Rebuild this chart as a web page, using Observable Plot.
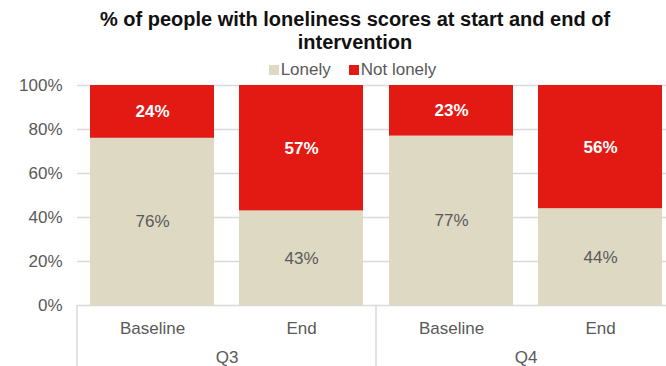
<!DOCTYPE html>
<html>
<head>
<meta charset="utf-8">
<script src="https://cdn.jsdelivr.net/npm/d3@7"></script>
<script src="https://cdn.jsdelivr.net/npm/@observablehq/plot@0.6"></script>
<style>
  html, body { margin: 0; padding: 0; background: #fff; overflow: hidden; }
  body { width: 666px; height: 366px; font-family: "Liberation Sans", Arial, sans-serif; }
  #title { width: 622px; padding: 8px 0 0 44px; text-align: center; font-weight: bold; font-size: 20px; line-height: 23px; color: #111; }
  #legend { width: 627px; padding-left: 39px; height: 20px; margin-top: 6px; display: flex; justify-content: center; align-items: center; font-size: 17px; color: #595959; }
  #legend .item { display: inline-flex; align-items: center; margin: 0 9px; }
  #legend .sw { width: 10px; height: 10px; margin-right: 2px; display: inline-block; }
  #chart { width: 666px; overflow: visible; }
  #chart svg { display: block; }
</style>
</head>
<body>
<div id="title">% of people with loneliness scores at start and end of<br>intervention</div>
<div id="legend"></div>
<div id="chart"></div>
<script>
const quarters = ["Q3", "Q3", "Q4", "Q4"];
const periods = ["Baseline", "End", "Baseline", "End"];
const lonely = [0.76, 0.43, 0.77, 0.44];
const notLonely = [0.24, 0.57, 0.23, 0.56];
const seriesNames = ["Lonely", "Not lonely"];
const seriesColors = ["#DDD9C3", "#E31A13"];
const yTicks = [0, 0.2, 0.4, 0.6, 0.8, 1];

const data = [];
quarters.forEach((q, i) => {
  data.push({quarter: q, period: periods[i], series: "Lonely", value: lonely[i], mid: lonely[i] / 2});
  data.push({quarter: q, period: periods[i], series: "Not lonely", value: notLonely[i], mid: lonely[i] + notLonely[i] / 2});
});

const chart = Plot.plot({
  width: 666,
  height: 286,
  marginTop: 5,
  marginBottom: 61,
  marginLeft: 77,
  marginRight: -9,
  style: {font: "17px 'Liberation Sans', Arial, sans-serif", color: "#595959", background: "#fff", overflow: "visible"},
  fx: {domain: ["Q3", "Q4"], padding: 0, label: null, axis: "bottom", tickSize: 0, tickPadding: 45},
  x: {domain: ["Baseline", "End"], paddingInner: 0.17, paddingOuter: 0.085, label: null, tickSize: 0, tickPadding: 16},
  y: {domain: [0, 1], label: null, ticks: yTicks, tickFormat: d3.format(".0%"), tickSize: 0, tickPadding: 15},
  color: {domain: seriesNames, range: seriesColors},
  marks: [
    Plot.gridY(yTicks, {stroke: "#d9d9d9", strokeOpacity: 1, strokeWidth: 1.5}),
    Plot.barY(data, {fx: "quarter", x: "period", y: "value", fill: "series", order: seriesNames}),
    Plot.text(data.filter(d => d.series === "Lonely"), {fx: "quarter", x: "period", y: "mid", text: d => d3.format(".0%")(d.value), fill: "#595959", fontSize: 17}),
    Plot.text(data.filter(d => d.series === "Not lonely"), {fx: "quarter", x: "period", y: "mid", text: d => d3.format(".0%")(d.value), fill: "#fff", fontWeight: "bold", fontSize: 17})
  ]
});

// category separators of the two-level axis, drawn from the facet and y scales
const fx = chart.scale("fx");
const y = chart.scale("y");
const svg = d3.select(chart);
const edges = [];
fx.domain.forEach(q => { edges.push(fx.apply(q)); edges.push(fx.apply(q) + fx.bandwidth); });
Array.from(new Set(edges.map(e => Math.round(e * 10) / 10))).forEach(xp => {
  svg.append("line").attr("x1", xp).attr("x2", xp).attr("y1", y.apply(0)).attr("y2", 286)
    .attr("stroke", "#d9d9d9").attr("stroke-width", 1.5);
});

document.getElementById("chart").appendChild(chart);

// legend from the color scale
const color = chart.scale("color");
const legend = document.getElementById("legend");
color.domain.forEach((name, i) => {
  const item = document.createElement("span");
  item.className = "item";
  const sw = document.createElement("span");
  sw.className = "sw";
  sw.style.background = color.range[i];
  item.appendChild(sw);
  item.appendChild(document.createTextNode(name));
  legend.appendChild(item);
});
</script>
</body>
</html>
